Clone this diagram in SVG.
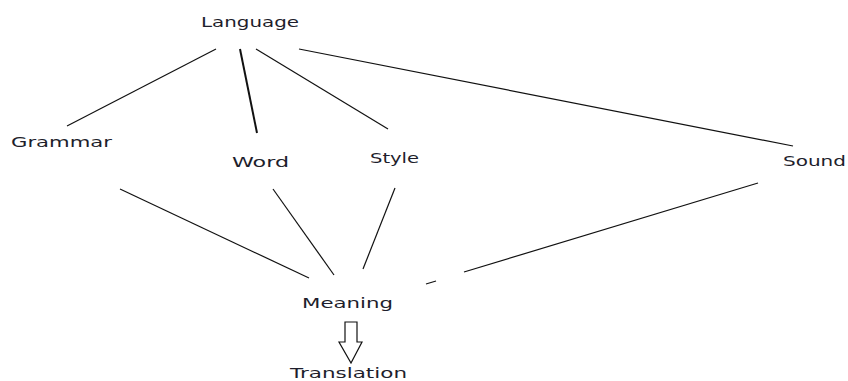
<svg xmlns="http://www.w3.org/2000/svg" width="848" height="381" viewBox="0 0 848 381">
<style>
.lbl{font-family:"DejaVu Sans","Liberation Sans",sans-serif;font-size:14.5px;fill:#1e1e2c}
.ln{stroke:#111;stroke-width:1.2;fill:none}
.thick{stroke-width:2}
.arr{fill:#fff;stroke:#111;stroke-width:1.2}
</style>
<rect width="848" height="381" fill="#fff"/>
<g id="connectors">
<line class="ln" x1="216" y1="49" x2="67" y2="126"/>
<line class="ln thick" x1="240" y1="49" x2="257" y2="133"/>
<line class="ln" x1="256" y1="49" x2="388" y2="129"/>
<line class="ln" x1="299" y1="49" x2="793" y2="146"/>
<line class="ln" x1="120" y1="189" x2="309" y2="278"/>
<line class="ln" x1="273" y1="189" x2="334" y2="275"/>
<line class="ln" x1="395" y1="188" x2="363" y2="269"/>
<line class="ln" x1="758" y1="183" x2="464" y2="272"/>
<line class="ln" x1="426" y1="284" x2="436" y2="281"/>
<path class="arr" d="M345,322 H357 V342 H362 L351,363 L339,342 H345 Z"/>
</g>
<g id="language"><text class="lbl" x="201" y="27" textLength="98" lengthAdjust="spacingAndGlyphs">Language</text></g>
<g id="grammar"><text class="lbl" x="11" y="147" textLength="101" lengthAdjust="spacingAndGlyphs">Grammar</text></g>
<g id="word"><text class="lbl" x="232" y="167" textLength="57" lengthAdjust="spacingAndGlyphs">Word</text></g>
<g id="style"><text class="lbl" x="370" y="163" textLength="49" lengthAdjust="spacingAndGlyphs">Style</text></g>
<g id="sound"><text class="lbl" x="783" y="166" textLength="63" lengthAdjust="spacingAndGlyphs">Sound</text></g>
<g id="meaning"><text class="lbl" x="302" y="308" textLength="91" lengthAdjust="spacingAndGlyphs">Meaning</text></g>
<g id="translation"><text class="lbl" x="290" y="378" textLength="117" lengthAdjust="spacingAndGlyphs">Translation</text></g>
</svg>
